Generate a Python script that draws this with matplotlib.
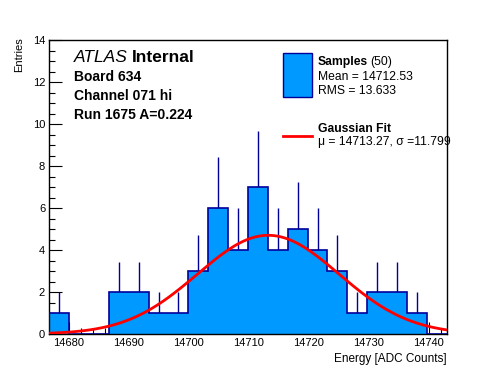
import numpy as np
import matplotlib
matplotlib.use("Agg")
import matplotlib.pyplot as plt
from matplotlib.patches import Rectangle
from matplotlib.lines import Line2D
from matplotlib.ticker import MultipleLocator

plt.rcParams['font.family'] = ['Liberation Sans', 'DejaVu Sans']

# ---- data ----
x_min, x_max = 14676.8, 14743.0
n_bins = 20
counts = [1, 0, 0, 2, 2, 1, 1, 3, 6, 4, 7, 4, 5, 4, 3, 1, 2, 2, 1, 0]
fit_mu = 14713.27
fit_sigma = 11.799
fit_amp = 4.7
x_label = "Energy [ADC Counts]"
y_label = "Entries"
y_max = 14

W, H = 496, 372
fig = plt.figure(figsize=(W / 100, H / 100), dpi=100)
ax = fig.add_axes([49.3 / W, 38 / H, 397.4 / W, 294 / H])

edges = np.linspace(x_min, x_max, n_bins + 1)
centers = 0.5 * (edges[:-1] + edges[1:])
c = np.array(counts, dtype=float)
nz = c > 0
err = np.sqrt(c)

fill_col = '#0099ff'
edge_col = '#000099'

ax.vlines(centers[nz], (c - err)[nz], (c + err)[nz], color=edge_col, lw=1.0, zorder=1)
ax.stairs(c, edges, fill=True, facecolor=fill_col, edgecolor='none', zorder=2)
ax.stairs(c, edges, fill=False, edgecolor=edge_col, lw=1.2, zorder=3, baseline=0)

xs = np.linspace(x_min, x_max, 400)
ax.plot(xs, fit_amp * np.exp(-0.5 * ((xs - fit_mu) / fit_sigma) ** 2), color='red', lw=2, zorder=4)

ax.set_xlim(x_min, x_max)
ax.set_ylim(0, y_max)
ax.xaxis.set_major_locator(MultipleLocator(10))
ax.xaxis.set_minor_locator(MultipleLocator(2))
ax.yaxis.set_major_locator(MultipleLocator(2))
ax.yaxis.set_minor_locator(MultipleLocator(0.5))
ax.tick_params(which='both', direction='in', top=False, right=False, labelsize=8, pad=3, width=0.8)
ax.tick_params(which='major', length=9)
ax.tick_params(which='minor', length=4.5)
for s in ax.spines.values():
    s.set_linewidth(1.0)

fig.text(446.7 / W, 1 - 362 / H, x_label, ha='right', va='baseline', fontsize=8.5)
fig.text(19 / W, 1 - 37 / H, y_label, ha='center', va='top', rotation=90, fontsize=8)

def ftxt(x, y, s, **kw):
    fig.text(x / W, 1 - y / H, s, va='baseline', **kw)

t = fig.text(74 / W, 1 - 62.5 / H, "ATLAS", fontsize=12.5, style='italic', va='baseline')
fig.canvas.draw()
bb = t.get_window_extent()
fig.text(bb.x1 / W + 4 / W, 1 - 62.5 / H, "Internal", fontsize=12.5, fontweight='bold', va='baseline')
ftxt(74.5, 81, "Board 634", fontsize=10, fontweight='bold')
ftxt(74.5, 100, "Channel 071 hi", fontsize=10, fontweight='bold')
ftxt(74.5, 118.5, "Run 1675 A=0.224", fontsize=10, fontweight='bold')

# legend
fig.patches.append(Rectangle((283.3 / W, 1 - 96.7 / H), 28.4 / W, 43.4 / H,
                             transform=fig.transFigure, facecolor=fill_col,
                             edgecolor=edge_col, lw=1.0))
t2 = fig.text(317.5 / W, 1 - 65 / H, "Samples", fontsize=8.7, fontweight='bold', va='baseline')
fig.canvas.draw()
bb2 = t2.get_window_extent()
fig.text(bb2.x1 / W + 3 / W, 1 - 65 / H, "(50)", fontsize=8.7, va='baseline')
ftxt(317.5, 80, "Mean = 14712.53", fontsize=8.7)
ftxt(317.5, 94, "RMS = 13.633", fontsize=8.7)
fig.lines.append(Line2D([283.3 / W, 311.7 / W], [1 - 135.7 / H, 1 - 135.7 / H],
                        transform=fig.transFigure, color='red', lw=2))
ftxt(317.5, 131.5, "Gaussian Fit", fontsize=8.7, fontweight='bold')
ftxt(317.5, 145, "\u03bc = 14713.27, \u03c3 =11.799", fontsize=8.7)

fig.savefig("out.png", dpi=100)
